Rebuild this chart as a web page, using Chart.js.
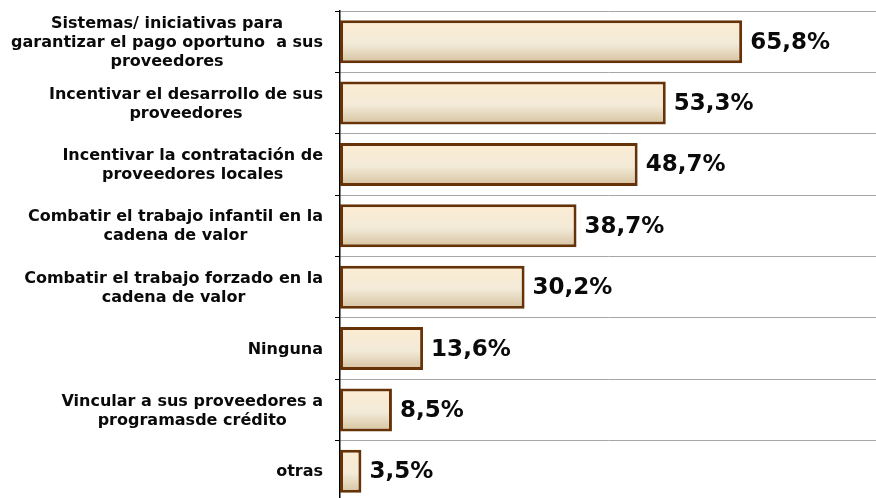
<!DOCTYPE html>
<html>
<head>
<meta charset="utf-8">
<script src="https://cdn.jsdelivr.net/npm/chart.js@4.4.1/dist/chart.umd.min.js"></script>
<style>
    html, body { margin: 0; padding: 0; background: #fff; overflow: hidden; }
    #wrap { width: 876px; height: 498px; overflow: hidden; }
</style>
</head>
<body>
<div id="wrap"><canvas id="chart" width="876" height="502"></canvas></div>
<script>
const categories = [
    ["Sistemas/ iniciativas para", "garantizar el pago oportuno  a sus", "proveedores"],
    ["Incentivar el desarrollo de sus", "proveedores"],
    ["Incentivar la contratación de", "proveedores locales"],
    ["Combatir el trabajo infantil en la", "cadena de valor"],
    ["Combatir el trabajo forzado en la", "cadena de valor"],
    ["Ninguna"],
    ["Vincular a sus proveedores a", "programasde crédito"],
    ["otras"]
];
const values = [65.8, 53.3, 48.7, 38.7, 30.2, 13.6, 8.5, 3.5];
const valueLabels = ["65,8%", "53,3%", "48,7%", "38,7%", "30,2%", "13,6%", "8,5%", "3,5%"];

const FONT = "'DejaVu Sans', Verdana, sans-serif";

// category labels: lines centered within a block, block right-aligned
const labelPlugin = {
    id: "catLabels",
    afterDraw(chart) {
        const ctx = chart.ctx;
        const y = chart.scales.y;
        const lineH = 19;
        const right = 323;
        ctx.save();
        ctx.font = "bold 16px " + FONT;
        ctx.fillStyle = "#0a0a0a";
        ctx.textAlign = "center";
        ctx.textBaseline = "middle";
        categories.forEach((lines, i) => {
            const cy = y.getPixelForValue(i) + 1;
            const w = Math.max(...lines.map(l => ctx.measureText(l).width));
            const cx = right - w / 2;
            const top = cy - (lines.length - 1) * lineH / 2;
            lines.forEach((l, j) => ctx.fillText(l, cx, top + j * lineH));
        });

        // value labels
        ctx.font = "bold 23px " + FONT;
        ctx.textAlign = "left";
        const meta = chart.getDatasetMeta(0);
        meta.data.forEach((bar, i) => {
            ctx.fillText(valueLabels[i], bar.x + 8, bar.y + 1);
        });
        ctx.restore();
    }
};

function barFill(context) {
    const chart = context.chart;
    const y = chart.scales.y;
    if (!chart.chartArea || !y || context.dataIndex === undefined) return "#f3e6cc";
    const cy = y.getPixelForValue(context.dataIndex);
    const half = (chart.chartArea.height / categories.length) * 0.35;
    if (!isFinite(cy) || !isFinite(half)) return "#f3e6cc";
    const g = chart.ctx.createLinearGradient(0, cy - half, 0, cy + half);
    g.addColorStop(0, "#fdecd2");
    g.addColorStop(0.55, "#f2ead8");
    g.addColorStop(1, "#d6c29e");
    return g;
}

const ctx = document.getElementById("chart").getContext("2d");
const chart = new Chart(ctx, {
    type: "bar",
    data: {
        labels: categories.map(c => c.join(" ")),
        datasets: [{
            data: values,
            backgroundColor: barFill,
            borderColor: "#663308",
            borderWidth: 3,
            borderSkipped: false,
            barPercentage: 0.7,
            categoryPercentage: 1
        }]
    },
    options: {
        indexAxis: "y",
        responsive: false,
        animation: false,
        layout: { padding: { top: 11, right: 0, bottom: 0, left: 0 } },
        plugins: {
            legend: { display: false },
            tooltip: { enabled: false }
        },
        scales: {
            x: {
                display: false,
                min: 0,
                max: 87.7
            },
            y: {
                afterFit(scale) { scale.width = 340; },
                ticks: { display: false },
                grid: {
                    offset: true,
                    color: "#a6a6a6",
                    lineWidth: 1,
                    tickLength: 5,
                    tickColor: "#000"
                },
                border: { color: "#000", width: 1.5 }
            }
        }
    },
    plugins: [labelPlugin]
});
</script>
</body>
</html>
